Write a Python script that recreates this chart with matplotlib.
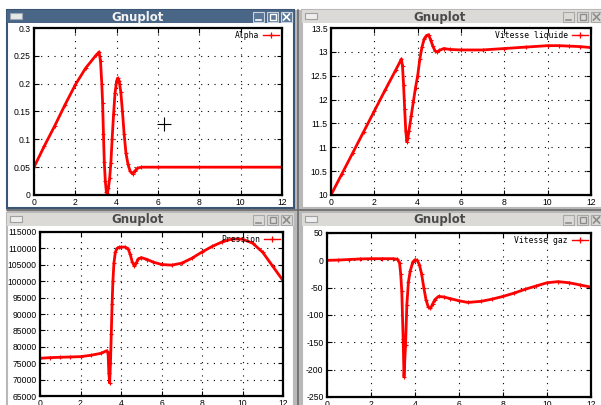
import matplotlib
matplotlib.use("Agg")
import matplotlib.pyplot as plt
from matplotlib.patches import Rectangle
from matplotlib.lines import Line2D
from matplotlib.ticker import MultipleLocator, FuncFormatter

alpha_t = [0, 0.5, 1, 1.5, 2, 2.5, 3, 3.15, 3.22, 3.28, 3.32, 3.36, 3.4, 3.45, 3.5,
           3.55, 3.6, 3.66, 3.72, 3.78, 3.85, 3.92, 4.0, 4.05, 4.12, 4.2, 4.28, 4.36,
           4.45, 4.55, 4.65, 4.77, 4.88, 5.0, 5.2, 6, 8, 10, 12]
alpha_v = [0.05, 0.088, 0.124, 0.162, 0.198, 0.228, 0.251, 0.257, 0.24, 0.2, 0.165,
           0.11, 0.06, 0.025, 0.006, 0.003, 0.012, 0.03, 0.058, 0.1, 0.145, 0.183,
           0.205, 0.21, 0.205, 0.185, 0.15, 0.11, 0.075, 0.055, 0.043, 0.038, 0.043,
           0.048, 0.05, 0.05, 0.05, 0.05, 0.05]

vliq_t = [0, 0.5, 1, 1.5, 2, 2.5, 3, 3.25, 3.3, 3.35, 3.4, 3.45, 3.5, 3.55, 3.6, 3.7,
          3.8, 3.9, 4.0, 4.1, 4.2, 4.3, 4.4, 4.5, 4.6, 4.7, 4.8, 4.9, 5.0, 5.2, 5.5,
          6, 7, 8, 9, 10, 10.5, 11, 11.5, 12]
vliq_v = [10.0, 10.44, 10.88, 11.32, 11.76, 12.2, 12.63, 12.85, 12.7, 12.3, 11.8,
          11.35, 11.12, 11.2, 11.35, 11.65, 11.95, 12.25, 12.5, 12.85, 13.1, 13.27,
          13.34, 13.36, 13.25, 13.12, 13.02, 13.0, 13.03, 13.07, 13.05, 13.04, 13.04,
          13.07, 13.1, 13.13, 13.13, 13.12, 13.11, 13.09]

pres_t = [0, 0.5, 1, 1.5, 2, 2.5, 3, 3.3, 3.36, 3.4, 3.44, 3.48, 3.52, 3.56, 3.6,
          3.65, 3.72, 3.8, 3.9, 4.0, 4.2, 4.35, 4.45, 4.55, 4.65, 4.75, 4.85, 5.0,
          5.3, 5.6, 6, 6.5, 7, 7.5, 8, 8.5, 9, 9.5, 10, 10.5, 11, 11.5, 12]
pres_v = [76500, 76700, 76800, 76900, 77000, 77400, 78000, 78800, 78200, 72000,
          69000, 75000, 84000, 93000, 100000, 105500, 108800, 110000, 110300, 110400,
          110400, 109900, 108300, 106000, 104700, 105500, 106800, 107200, 106600,
          105800, 105100, 104900, 105500, 107000, 108900, 110600, 112000, 112900,
          112800, 111600, 108800, 104500, 100200]

vgaz_t = [0, 0.5, 1, 1.5, 2, 2.5, 3, 3.2, 3.3, 3.35, 3.4, 3.46, 3.5, 3.57, 3.63,
          3.7, 3.78, 3.9, 4.0, 4.1, 4.2, 4.3, 4.4, 4.5, 4.6, 4.7, 4.8, 4.9, 5.07,
          5.3, 5.6, 6, 6.4, 7, 7.5, 8, 8.5, 9, 9.5, 10, 10.5, 11, 11.5, 12]
vgaz_v = [0, 0.5, 1.5, 2.5, 3, 3, 3, 2, -5, -25, -57, -143, -213, -155, -81, -40,
          -20, -3, 1, 0, -8, -25, -50, -72, -85, -88, -80, -72, -66, -67, -70, -74,
          -77, -75, -71, -66, -60, -53, -47, -41, -39, -41, -45, -49]

panels = [
    dict(t=alpha_t, v=alpha_v, label="Alpha", ylim=(0, 0.3), ystep=0.05),
    dict(t=vliq_t, v=vliq_v, label="Vitesse liquide", ylim=(10, 13.5), ystep=0.5),
    dict(t=pres_t, v=pres_v, label="Pression", ylim=(65000, 115000), ystep=5000),
    dict(t=vgaz_t, v=vgaz_v, label="Vitesse gaz", ylim=(-250, 50), ystep=50),
]
cursor_pos = (6.3, 0.128)

# ---- screen layout (pixels) ----
W, H = 601, 405
windows = [  # x, y, w, h, active
    (7, 10, 287, 198, True),
    (302, 10, 305, 198, False),
    (7, 213, 287, 200, False),
    (302, 213, 305, 200, False),
]
axes_px = [(34, 28, 248, 167), (331, 28, 260, 167), (40, 232, 243, 164), (327, 233, 264, 164)]

plt.rcParams['axes.unicode_minus'] = False
fig = plt.figure(figsize=(W / 100, H / 100), dpi=100)
fig.patch.set_facecolor("white")


def fr(x, y, w, h):
    return [x / W, 1 - (y + h) / H, w / W, h / H]


def rect(x, y, w, h, **kw):
    l, b, ww, hh = fr(x, y, w, h)
    kw.setdefault("zorder", -5)
    fig.add_artist(Rectangle((l, b), ww, hh, transform=fig.transFigure, **kw))


def line(xs, ys, **kw):
    fig.add_artist(Line2D([x / W for x in xs], [1 - y / H for y in ys],
                          transform=fig.transFigure, zorder=-4, **kw))


# separators between the windows
rect(294, 10, 8, 395, facecolor="#b9b9b9", edgecolor="none", zorder=-6)
rect(7, 207, 594, 6, facecolor="#b9b9b9", edgecolor="none", zorder=-6)
line([298, 298], [10, 405], color="#6a6a6a", lw=1.2)
line([7, 601], [210, 210], color="#6a6a6a", lw=1.2)

for (x, y, w, h, active) in windows:
    if active:
        bar, border, txt, btn_fc, btn_ec, glyph = "#4a6687", "#3b5574", "#f4f4f4", "#5c7898", "#c9d3df", "#ffffff"
    else:
        bar, border, txt, btn_fc, btn_ec, glyph = "#dcdad6", "#b8b8b8", "#4a4a4a", "#dcdad6", "#a8a8a8", "#8c8c8c"
    rect(x, y, w, h, facecolor="white", edgecolor=border, lw=1.5)
    rect(x, y, w, 13, facecolor=bar, edgecolor="none", zorder=-4.5)
    # window icon
    rect(x + 3, y + 3, 12, 6, facecolor="#e8e8e8" if active else "#eeeeee",
         edgecolor="#9aa6b4" if active else "#a0a0a0", lw=0.8, zorder=-4)
    # buttons
    bx0 = x + 246 if w < 300 else x + 261
    for i in range(3):
        bx = bx0 + i * 14
        rect(bx, y + 2, 11, 10, facecolor=btn_fc, edgecolor=btn_ec, lw=0.8, zorder=-4)
        if i == 0:
            line([bx + 3, bx + 8], [y + 9.5, y + 9.5], color=glyph, lw=1.2)
        elif i == 1:
            rect(bx + 2.5, y + 4, 6, 6, facecolor="none", edgecolor=glyph, lw=1.0, zorder=-3.5)
        else:
            line([bx + 2.5, bx + 8.5], [y + 4, y + 10], color=glyph, lw=1.2)
            line([bx + 2.5, bx + 8.5], [y + 10, y + 4], color=glyph, lw=1.2)
    cx = (x + 15 + bx0) / 2
    fig.text(cx / W, 1 - (y + 7) / H, "Gnuplot", ha="center", va="center",
             fontsize=8.5, color=txt, family="DejaVu Sans", weight="semibold")

tick_font = dict(family="Liberation Sans", size=6.2)

for p, (x, y, w, h) in zip(panels, axes_px):
    ax = fig.add_axes(fr(x, y, w, h))
    ax.set_facecolor("white")
    ax.plot(p["t"], p["v"], color="#ff0000", lw=2.0, marker="+", ms=3.5, mew=0.8)
    ax.set_xlim(0, 12)
    ax.set_ylim(*p["ylim"])
    ax.xaxis.set_major_locator(MultipleLocator(2))
    ax.yaxis.set_major_locator(MultipleLocator(p["ystep"]))
    ax.yaxis.set_major_formatter(FuncFormatter(lambda v, pos: "%g" % round(v, 6)))
    ax.grid(True, color="black", lw=0.8, linestyle=(0, (1, 5)))
    ax.tick_params(direction="in", length=3.5, width=0.8, top=True, right=True,
                   pad=2.5, labelsize=tick_font["size"])
    for lab in ax.get_xticklabels() + ax.get_yticklabels():
        lab.set_family(tick_font["family"])
    for s in ax.spines.values():
        s.set_linewidth(1.6)
        s.set_color("black")
    # gnuplot key: thin line sample with a point, text on the left
    handle = Line2D([], [], color="#ff0000", lw=1.0, marker="+", ms=4, mew=0.9)
    ax.legend([handle], [p["label"]], loc="upper right", frameon=False, markerfirst=False,
              handlelength=2.0, handletextpad=0.5, borderaxespad=0.15, borderpad=0.2,
              prop=dict(family="DejaVu Sans Mono", size=5.8))
    if p["label"] == "Alpha":
        ax.plot(*cursor_pos, marker="+", color="black", ms=10, mew=0.8)

fig.savefig("out.png", dpi=100)
